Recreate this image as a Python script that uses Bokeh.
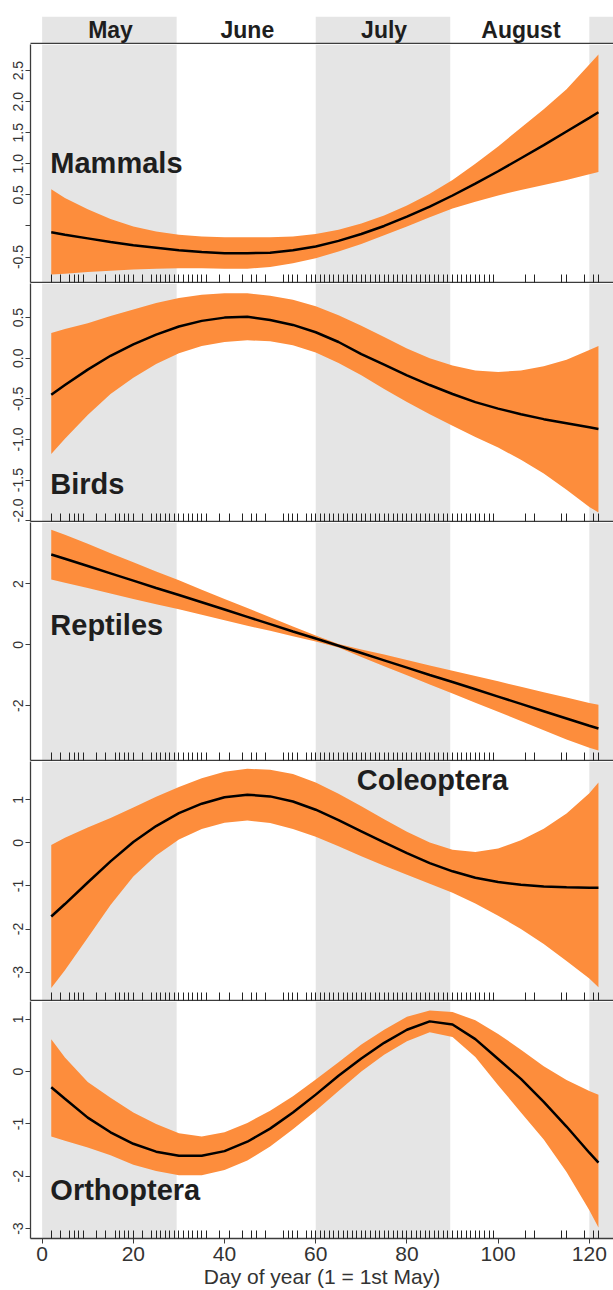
import math
from bokeh.plotting import figure
from bokeh.layouts import column
from bokeh.models import Range1d, FixedTicker, BoxAnnotation, Label
from bokeh.embed import file_html
from bokeh.resources import INLINE

# ---------------- data ----------------
months = ["May", "June", "July", "August"]
month_centers = [15, 45, 75, 105]
band_start = [0, 60, 120]
band_end = [29.5, 89.5, 130]

x_ticks = [0, 20, 40, 60, 80, 100, 120]
x_title = "Day of year (1 = 1st May)"

rug_days = [2, 4, 6, 7, 8, 9, 12, 14, 16, 17, 18, 19, 20, 22, 24, 25, 26, 27, 28,
            29, 30, 31, 32, 33, 34, 35, 36, 39, 41, 44, 46, 47, 49, 53, 54, 55, 56,
            58, 59, 60, 61, 62, 63, 64, 65, 66, 67, 68, 69, 70, 71, 72, 73, 74, 75,
            76, 77, 78, 79, 80, 81, 82, 83, 84, 85, 86, 87, 88, 89, 90, 91, 92, 93,
            94, 95, 96, 97, 98, 99, 106, 108, 114, 115, 119, 121, 122]

days = [2, 5, 10, 15, 20, 25, 30, 35, 40, 45, 50, 55, 60, 65, 70, 75, 80, 85, 90,
        95, 100, 105, 110, 115, 120, 122]

mammals_fit = [-0.10, -0.14, -0.20, -0.26, -0.31, -0.35, -0.39, -0.42, -0.44, -0.44,
               -0.43, -0.39, -0.33, -0.24, -0.13, 0.00, 0.15, 0.31, 0.49, 0.68, 0.88,
               1.09, 1.30, 1.52, 1.74, 1.83]
mammals_upper = [0.59, 0.45, 0.27, 0.11, -0.01, -0.09, -0.14, -0.17, -0.18, -0.18,
                 -0.18, -0.17, -0.13, -0.06, 0.04, 0.17, 0.33, 0.52, 0.74, 1.00, 1.28,
                 1.58, 1.88, 2.20, 2.60, 2.76]
mammals_lower = [-0.78, -0.77, -0.74, -0.72, -0.70, -0.69, -0.68, -0.68, -0.69, -0.69,
                 -0.66, -0.60, -0.52, -0.41, -0.29, -0.15, -0.01, 0.14, 0.28, 0.39,
                 0.49, 0.58, 0.66, 0.74, 0.83, 0.87]

birds_fit = [-0.45, -0.33, -0.14, 0.03, 0.17, 0.29, 0.39, 0.46, 0.50, 0.51, 0.47, 0.41,
             0.32, 0.20, 0.05, -0.08, -0.21, -0.33, -0.44, -0.54, -0.62, -0.69, -0.75,
             -0.80, -0.85, -0.87]
birds_upper = [0.31, 0.36, 0.43, 0.52, 0.60, 0.68, 0.74, 0.78, 0.80, 0.80, 0.77, 0.72,
               0.64, 0.53, 0.40, 0.26, 0.12, 0.00, -0.09, -0.15, -0.17, -0.15, -0.10,
               -0.02, 0.10, 0.15]
birds_lower = [-1.18, -0.99, -0.70, -0.44, -0.24, -0.07, 0.06, 0.15, 0.20, 0.22, 0.21,
               0.16, 0.07, -0.06, -0.21, -0.38, -0.54, -0.69, -0.83, -0.97, -1.10,
               -1.25, -1.42, -1.62, -1.83, -1.90]

reptiles_fit = [2.97, 2.83, 2.59, 2.35, 2.11, 1.87, 1.64, 1.40, 1.16, 0.92, 0.68, 0.44,
                0.21, -0.03, -0.27, -0.51, -0.75, -0.99, -1.22, -1.46, -1.70, -1.94,
                -2.18, -2.42, -2.66, -2.75]
reptiles_upper = [3.78, 3.62, 3.32, 3.01, 2.71, 2.41, 2.12, 1.81, 1.51, 1.21, 0.91, 0.60,
                  0.31, 0.03, -0.15, -0.32, -0.50, -0.68, -0.85, -1.02, -1.20, -1.38,
                  -1.56, -1.73, -1.91, -1.97]
reptiles_lower = [2.15, 2.04, 1.87, 1.69, 1.51, 1.33, 1.17, 0.99, 0.81, 0.63, 0.46, 0.28,
                  0.11, -0.09, -0.40, -0.70, -1.00, -1.30, -1.60, -1.90, -2.20, -2.50,
                  -2.81, -3.11, -3.38, -3.47]

coleoptera_fit = [-1.71, -1.42, -0.92, -0.43, 0.02, 0.39, 0.69, 0.91, 1.06, 1.12, 1.08,
                  0.96, 0.77, 0.53, 0.27, 0.01, -0.24, -0.47, -0.66, -0.81, -0.91, -0.97,
                  -1.01, -1.03, -1.04, -1.04]
coleoptera_upper = [-0.05, 0.12, 0.36, 0.58, 0.82, 1.07, 1.30, 1.50, 1.65, 1.72, 1.70,
                    1.60, 1.40, 1.14, 0.85, 0.55, 0.26, 0.01, -0.16, -0.21, -0.13, 0.06,
                    0.33, 0.68, 1.15, 1.40]
coleoptera_lower = [-3.37, -2.96, -2.20, -1.44, -0.78, -0.29, 0.08, 0.32, 0.47, 0.52,
                    0.46, 0.32, 0.14, -0.08, -0.31, -0.53, -0.74, -0.95, -1.16, -1.41,
                    -1.69, -2.00, -2.35, -2.74, -3.15, -3.35]

orthoptera_fit = [-0.30, -0.52, -0.88, -1.16, -1.38, -1.53, -1.61, -1.61, -1.52, -1.34,
                  -1.09, -0.78, -0.44, -0.08, 0.25, 0.55, 0.80, 0.96, 0.90, 0.62, 0.24,
                  -0.14, -0.58, -1.05, -1.55, -1.74]
orthoptera_upper = [0.62, 0.27, -0.20, -0.50, -0.78, -1.00, -1.18, -1.24, -1.16, -0.98,
                    -0.75, -0.47, -0.15, 0.18, 0.52, 0.80, 1.05, 1.17, 1.14, 0.98, 0.72,
                    0.42, 0.10, -0.16, -0.37, -0.44]
orthoptera_lower = [-1.24, -1.32, -1.45, -1.60, -1.78, -1.90, -1.98, -1.98, -1.88, -1.70,
                    -1.43, -1.10, -0.75, -0.37, 0.00, 0.32, 0.58, 0.75, 0.66, 0.28,
                    -0.26, -0.78, -1.30, -1.92, -2.65, -2.98]

mammals_ticks = [-0.5, 0, 0.5, 1.0, 1.5, 2.0, 2.5]
mammals_labels = ["-0.5", "", "0.5", "1.0", "1.5", "2.0", "2.5"]
birds_ticks = [-2.0, -1.5, -1.0, -0.5, 0.0, 0.5]
birds_labels = ["-2.0", "-1.5", "-1.0", "-0.5", "0.0", "0.5"]
reptiles_ticks = [-2, 0, 2]
reptiles_labels = ["-2", "0", "2"]
coleoptera_ticks = [-3, -2, -1, 0, 1]
coleoptera_labels = ["-3", "-2", "-1", "0", "1"]
orthoptera_ticks = [-3, -2, -1, 0, 1]
orthoptera_labels = ["-3", "-2", "-1", "0", "1"]

# ---------------- style ----------------
FONT = "Liberation Sans"
GRAY = "#e5e5e5"
ORANGE = "#fd8d3c"
AX = "#3c3c3c"
TXT = "#1e1e1e"
X0, X1 = -2.55, 125.3
W = 613
LEFT = 30


def style_yaxis(p, ticks, labels, invisible=False):
    ax = p.yaxis[0]
    ax.ticker = FixedTicker(ticks=ticks)
    ax.major_label_overrides = dict(zip(ticks, labels))
    ax.major_label_orientation = "vertical"
    ax.major_label_text_font = FONT
    ax.major_label_text_font_size = "14px"
    ax.major_label_text_color = "#333333"
    ax.major_label_standoff = 2
    ax.major_tick_in = 0
    ax.major_tick_out = 5
    ax.minor_tick_in = 0
    ax.minor_tick_out = 0
    ax.major_tick_line_color = AX
    ax.axis_line_color = AX
    ax.axis_line_width = 1.3
    if invisible:
        ax.major_label_text_alpha = 0
        ax.major_tick_line_alpha = 0
        ax.axis_line_alpha = 0


def add_bands(p):
    for s, e in zip(band_start, band_end):
        p.add_layout(BoxAnnotation(left=s, right=e, fill_color=GRAY, fill_alpha=1,
                                   line_color=None, level="underlay"))


def base_fig(h, y0, y1, border_top=0, border_bottom=1):
    p = figure(width=W, height=h,
               x_range=Range1d(X0, X1), y_range=Range1d(y0, y1),
               output_backend="svg", toolbar_location=None,
               min_border_left=LEFT, min_border_right=0,
               min_border_top=border_top, min_border_bottom=border_bottom)
    p.grid.visible = False
    p.outline_line_color = None
    p.background_fill_color = "white"
    add_bands(p)
    return p


# month header
top = base_fig(44, 0, 1, border_top=16, border_bottom=1)
style_yaxis(top, [0.5], ["0.0"], invisible=True)
xa = top.xaxis[0]
xa.ticker = FixedTicker(ticks=[])
xa.major_label_text_font_size = "0px"
xa.major_label_standoff = 0
xa.major_tick_out = 0
xa.major_tick_in = 0
xa.axis_line_color = AX
xa.axis_line_width = 1.3
for mx, mname in zip(month_centers, months):
    top.add_layout(Label(x=mx, y=0.5, text=mname, text_font=FONT,
                         text_font_style="bold", text_font_size="23px",
                         text_align="center", text_baseline="middle",
                         text_color=TXT))


def panel(h, y0, y1, ticks, labels, fit, upper, lower, name, lx, ly, bottom=False):
    p = base_fig(h, y0, y1, border_bottom=(0 if bottom else 1))
    p.varea(x=days, y1=lower, y2=upper, fill_color=ORANGE, fill_alpha=1)
    p.line(x=days, y=fit, line_color="black", line_width=2.5)
    style_yaxis(p, ticks, labels)
    xa = p.xaxis[0]
    xa.axis_line_color = AX
    xa.axis_line_width = 1.3
    xa.minor_tick_in = 8
    xa.minor_tick_out = 0
    xa.minor_tick_line_color = "#222222"
    xa.minor_tick_line_width = 1
    if bottom:
        xa.ticker = FixedTicker(ticks=x_ticks, minor_ticks=rug_days)
        xa.major_tick_in = 0
        xa.major_tick_out = 5
        xa.major_tick_line_color = AX
        xa.major_label_text_font = FONT
        xa.major_label_text_font_size = "21px"
        xa.major_label_text_color = "#333333"
        xa.major_label_standoff = 3
        xa.axis_label = x_title
        xa.axis_label_text_font = FONT
        xa.axis_label_text_font_size = "21px"
        xa.axis_label_text_font_style = "normal"
        xa.axis_label_text_color = "#333333"
        xa.axis_label_standoff = 1
    else:
        xa.ticker = FixedTicker(ticks=[], minor_ticks=rug_days)
        xa.major_label_text_font_size = "0px"
        xa.major_label_standoff = 0
        xa.major_tick_out = 0
        xa.major_tick_in = 0
    p.add_layout(Label(x=lx, y=ly, text=name, text_font=FONT, text_font_style="bold",
                       text_font_size="29px", text_color=TXT))
    return p


p1 = panel(239, -0.91, 2.92, mammals_ticks, mammals_labels, mammals_fit, mammals_upper,
           mammals_lower, "Mammals", 1.8, 0.76)
p2 = panel(239, -2.01, 0.92, birds_ticks, birds_labels, birds_fit, birds_upper,
           birds_lower, "Birds", 1.8, -1.75)
p3 = panel(239, -3.8, 4.02, reptiles_ticks, reptiles_labels, reptiles_fit,
           reptiles_upper, reptiles_lower, "Reptiles", 1.8, 0.12)
p4 = panel(240, -3.66, 1.89, coleoptera_ticks, coleoptera_labels, coleoptera_fit,
           coleoptera_upper, coleoptera_lower, "Coleoptera", 69.0, 1.10)
p5 = panel(289, -3.19, 1.34, orthoptera_ticks, orthoptera_labels, orthoptera_fit,
           orthoptera_upper, orthoptera_lower, "Orthoptera", 1.8, -2.57, bottom=True)

layout = column(top, p1, p2, p3, p4, p5, spacing=0)
open("out.html", "w").write(file_html(layout, INLINE))
